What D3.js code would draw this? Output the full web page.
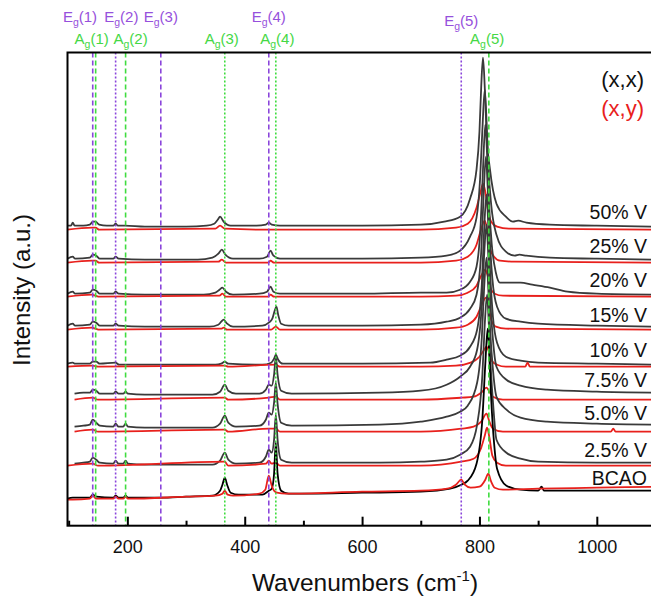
<!DOCTYPE html>
<html lang="en">
<head>
<meta charset="UTF-8">
<title>Raman spectra | V doped BCAO</title>
<script src="https://d3js.org/d3.v7.min.js"></script>
<style>
    body { margin: 0; background: #fff; }
    svg { display: block; font-family: "Liberation Sans", Arial, sans-serif; }
</style>
</head>
<body>
<div id="chart"></div>
<script>
    // samples, top to bottom
    const samples = ["50% V", "25% V", "20% V", "15% V", "10% V", "7.5% V", "5.0% V", "2.5% V", "BCAO"];
    const offsetXX = [299, 266, 231, 199, 161, 131, 98, 61, 27];
    const offsetXY = [296, 263, 229, 196, 159, 126, 94, 60, 26];

    // spectra: [wavenumber, intensity above the offset]
    const xx50 = [[98,1],[104,1],[107,4],[110,1],[125,1],[136,2],[141,5],[146,5],[152,2],[165,1],[176,1],[180,3],[184,1],[196,1],[230,0],[300,0],[335,1],[348,3],[354,7],[358,10],[364,5],[376,1],[420,1],[436,2],[441,4],[446,2],[460,1],[600,1],[700,2],[740,5],[767,10],[784,28],[795,57],[800,95],[803,140],[806,169],[809,140],[812,95],[818,57],[829,23],[845,10],[857,5],[866,6],[880,4],[920,2],[1000,1],[1100,0]];
    const xy50 = [[98,0],[140,2],[146,2],[152,0],[350,1],[358,4],[366,1],[440,0],[700,0],[760,2],[780,6],[795,22],[802,38],[806,46],[810,38],[815,18],[820,8],[830,3],[850,1],[1100,0]];

    const xx25 = [[98,1],[107,3],[111,1],[136,2],[141,5],[147,4],[153,1],[176,1],[180,3],[185,1],[230,0],[320,0],[345,2],[355,6],[361,10],[367,5],[380,1],[425,1],[438,3],[444,9],[449,4],[460,1],[600,1],[700,2],[744,4],[767,9],[784,23],[795,42],[801,80],[805,130],[809,170],[812,140],[815,95],[820,55],[829,25],[845,8],[860,4],[868,5],[880,4],[920,2],[1000,1],[1100,0]];
    const xy25 = [[98,0],[140,2],[146,2],[152,0],[355,1],[361,3],[368,0],[440,0],[444,2],[450,0],[700,0],[760,2],[780,6],[795,18],[802,32],[809,42],[813,34],[818,14],[825,6],[835,2],[860,1],[1100,0]];

    const xx20 = [[98,1],[107,3],[111,1],[136,2],[141,5],[147,4],[153,1],[176,1],[180,3],[185,1],[230,0],[330,0],[350,2],[357,5],[362,7],[368,3],[380,0],[425,1],[438,3],[444,8],[449,3],[460,1],[600,1],[700,2],[744,2],[767,5],[784,13],[795,28],[802,70],[806,125],[810,170],[813,140],[816,95],[821,50],[828,22],[835,12],[850,12],[870,12],[890,10],[920,7],[950,3],[1000,1],[1100,0]];
    const xy20 = [[98,0],[140,2],[146,1],[152,0],[357,1],[362,3],[368,0],[440,0],[444,2],[450,0],[700,0],[760,1],[780,4],[795,11],[803,21],[810,27],[814,21],[819,8],[826,3],[840,1],[1100,0]];

    const xx15 = [[98,1],[107,3],[111,1],[136,2],[141,5],[147,4],[153,1],[176,1],[180,3],[185,1],[230,0],[340,0],[355,2],[360,5],[364,7],[370,3],[380,0],[430,1],[441,4],[447,8],[451,16],[454,20],[457,12],[462,3],[475,1],[600,1],[700,2],[744,5],[767,9],[784,18],[795,32],[803,75],[807,130],[811,170],[814,140],[817,95],[822,48],[830,20],[845,8],[870,5],[900,3],[1000,1],[1100,0]];
    const xy15 = [[98,0],[140,2],[146,1],[152,0],[360,1],[364,2],[370,0],[445,0],[453,3],[460,0],[700,0],[760,2],[780,5],[795,13],[804,25],[811,32],[815,25],[820,10],[828,3],[845,1],[1100,0]];

    const xx10 = [[98,1],[107,2],[111,1],[136,1],[141,3],[147,3],[153,1],[180,2],[186,0],[230,0],[350,0],[360,1],[366,3],[372,1],[430,0],[445,2],[450,6],[453,10],[457,5],[465,1],[600,1],[716,2],[744,5],[767,9],[784,18],[796,35],[804,80],[808,135],[812,170],[815,140],[818,95],[823,48],[830,22],[845,8],[870,4],[900,2],[1000,1],[1100,0]];
    const xy10 = [[98,0],[141,1],[150,0],[366,1],[372,0],[453,2],[460,0],[700,0],[760,1],[785,4],[800,10],[807,16],[812,20],[816,15],[821,6],[830,2],[845,0],[878,0],[882,4],[886,0],[1100,0]];

    const xx7 = [[110,1],[125,2],[136,2],[141,5],[147,4],[153,1],[176,1],[180,3],[185,1],[193,1],[197,3],[201,1],[230,0],[345,0],[358,3],[366,10],[372,4],[385,1],[425,1],[436,5],[441,10],[446,9],[450,20],[453,38],[456,20],[462,4],[480,1],[630,2],[700,4],[744,10],[767,18],[784,28],[796,45],[804,90],[808,140],[812,170],[815,140],[818,100],[823,55],[829,28],[846,15],[870,9],[915,5],[1000,3],[1100,2]];
    const xy7 = [[110,0],[141,2],[150,0],[366,2],[372,0],[441,2],[453,3],[460,0],[700,0],[769,2],[790,3],[803,7],[812,12],[817,8],[823,3],[840,0],[1100,0]];

    const xx5 = [[110,1],[125,2],[136,3],[141,8],[147,5],[153,2],[176,1],[180,4],[185,1],[193,1],[197,4],[201,1],[230,0],[345,0],[358,4],[366,12],[372,5],[385,1],[425,2],[436,8],[441,15],[446,13],[450,25],[453,45],[456,24],[462,5],[480,2],[630,3],[700,6],[744,11],[767,16],[780,22],[796,45],[804,90],[808,140],[812,170],[815,140],[818,100],[823,58],[829,31],[846,18],[870,10],[915,6],[1000,4],[1100,3]];
    const xy5 = [[110,0],[141,2],[150,0],[366,2],[372,0],[441,3],[453,3],[460,0],[700,0],[769,3],[790,5],[803,10],[812,18],[817,10],[823,3],[840,0],[1024,0],[1028,3],[1032,0],[1100,0]];

    const xx2 = [[110,1],[125,2],[136,3],[141,7],[147,5],[153,2],[176,1],[180,4],[185,1],[193,1],[197,4],[201,1],[230,0],[345,0],[358,4],[366,12],[372,5],[385,1],[425,2],[436,8],[441,15],[446,12],[450,25],[453,50],[456,25],[462,5],[480,2],[630,2],[700,3],[744,5],[767,10],[784,18],[796,40],[805,90],[809,140],[813,170],[816,140],[819,100],[824,55],[829,25],[846,12],[870,6],[900,3],[1000,2],[1100,2]];
    const xy2 = [[98,0],[141,2],[150,0],[366,4],[372,0],[436,2],[441,5],[446,2],[453,3],[460,0],[700,0],[769,4],[790,7],[803,18],[809,30],[813,38],[817,28],[822,10],[830,3],[845,0],[1100,0]];

    const xxBCAO = [[98,0],[107,1],[136,1],[141,4],[147,2],[176,1],[180,3],[185,1],[193,1],[197,3],[201,1],[257,1],[300,2],[345,3],[358,8],[362,14],[366,21],[370,14],[376,6],[390,4],[430,4],[441,8],[446,10],[450,25],[453,56],[456,25],[462,8],[475,5],[600,6],[700,7],[750,10],[769,14],[780,18],[795,35],[805,80],[810,135],[814,170],[817,140],[820,100],[825,55],[830,30],[846,13],[870,9],[900,8],[906,12],[910,8],[1000,8],[1100,8]];
    const xyBCAO = [[98,0],[107,0],[136,1],[141,4],[147,1],[176,1],[180,3],[185,1],[193,1],[197,3],[201,1],[300,3],[350,4],[362,6],[366,9],[371,5],[380,4],[425,6],[435,10],[441,24],[446,14],[450,9],[455,7],[470,6],[600,8],[700,9],[745,11],[760,15],[769,20],[775,15],[785,12],[800,13],[810,20],[815,26],[820,18],[826,12],[840,10],[900,11],[1000,12],[1100,13]];

    const spectraXX = [xx50, xx25, xx20, xx15, xx10, xx7, xx5, xx2, xxBCAO];
    const spectraXY = [xy50, xy25, xy20, xy15, xy10, xy7, xy5, xy2, xyBCAO];

    // phonon modes marked by vertical lines
    const egModes = [141, 180, 257, 441, 769];
    const agModes = [146, 197, 366, 453, 816];
    const modeNumbers = ["1", "2", "3", "4", "5"];

    const xTicks = [200, 400, 600, 800, 1000];
    const xMinorTicks = [100, 300, 500, 700, 900];

    // layout
    const width = 651, height = 601;
    const plotLeft = 67.5, plotRight = 655.5, plotTop = 52.5, plotBottom = 525.7;
    const purple = "#8a45db", green = "#3fdc3f";
    const egDash = ["5,3", "2,2", "5,3", "5,3", "2,2"];
    const agDash = ["5,3", "5,3", "2,2", "2,2", "5,3"];
    const egNudge = [-12.7, 5.7, 0, 0, 0];
    const agNudge = [-4, 5, -3, 1.5, -1.7];

    const x = d3.scaleLinear().domain([98, 1100]).range([plotLeft, plotRight]);
    const y = d3.scaleLinear().domain([0, plotBottom - plotTop]).range([plotBottom, plotTop]);

    const svg = d3.select("#chart")
        .append("svg")
        .attr("width", width)
        .attr("height", height);

    svg.append("defs").append("clipPath")
        .attr("id", "plot-clip")
        .append("rect")
        .attr("x", plotLeft)
        .attr("y", plotTop)
        .attr("width", plotRight - plotLeft)
        .attr("height", plotBottom - plotTop);

    const plot = svg.append("g").attr("clip-path", "url(#plot-clip)");

    const line = d3.line()
        .x(d => x(d[0]))
        .y(d => y(d[1]))
        .curve(d3.curveMonotoneX);

    samples.forEach((name, i) => {
        const xxColor = name === "BCAO" ? "#000" : "#3a3a3a";
        plot.append("path")
            .attr("d", line(spectraXX[i].map(d => [d[0], d[1] + offsetXX[i]])))
            .attr("fill", "none")
            .attr("stroke", xxColor)
            .attr("stroke-width", 1.8)
            .attr("stroke-linejoin", "round");
        plot.append("path")
            .attr("d", line(spectraXY[i].map(d => [d[0], d[1] + offsetXY[i]])))
            .attr("fill", "none")
            .attr("stroke", "#e8201c")
            .attr("stroke-width", 1.8)
            .attr("stroke-linejoin", "round");
    });

    // mode lines on top of the spectra
    egModes.forEach((m, i) => {
        plot.append("line")
            .attr("x1", x(m)).attr("x2", x(m))
            .attr("y1", plotTop).attr("y2", plotBottom)
            .attr("stroke", purple)
            .attr("stroke-width", 1.6)
            .attr("stroke-dasharray", egDash[i]);
    });
    agModes.forEach((m, i) => {
        plot.append("line")
            .attr("x1", x(m)).attr("x2", x(m))
            .attr("y1", plotTop).attr("y2", plotBottom)
            .attr("stroke", green)
            .attr("stroke-width", 1.6)
            .attr("stroke-dasharray", agDash[i]);
    });

    function modeLabel(letter, num, cx, baseline, color) {
        const t = svg.append("text")
            .attr("x", cx)
            .attr("y", baseline)
            .attr("text-anchor", "middle")
            .attr("font-size", 15)
            .attr("fill", color);
        t.append("tspan").text(letter);
        t.append("tspan").attr("dy", 4).attr("font-size", 10.5).text("g");
        t.append("tspan").attr("dy", -4).text("(" + num + ")");
    }
    egModes.forEach((m, i) => modeLabel("E", modeNumbers[i], x(m) + egNudge[i], i === 4 ? 26 : 22, "#9650dc"));
    agModes.forEach((m, i) => modeLabel("A", modeNumbers[i], x(m) + agNudge[i], 43.5, "#45d845"));

    // frame
    svg.append("rect")
        .attr("x", plotLeft).attr("y", plotTop)
        .attr("width", plotRight - plotLeft).attr("height", plotBottom - plotTop)
        .attr("fill", "none")
        .attr("stroke", "#000")
        .attr("stroke-width", 2);

    const xAxis = svg.append("g")
        .attr("transform", `translate(0,${plotBottom})`)
        .call(d3.axisBottom(x).tickValues(xTicks).tickFormat(d3.format("d"))
            .tickSizeInner(-9).tickSizeOuter(0).tickPadding(14.5));
    xAxis.select(".domain").remove();
    xAxis.selectAll(".tick line").attr("stroke-width", 2);
    xAxis.selectAll("text").attr("font-size", 18).attr("font-family", "Liberation Sans, Arial, sans-serif").attr("fill", "#111");

    const xMinor = svg.append("g")
        .attr("transform", `translate(0,${plotBottom})`)
        .call(d3.axisBottom(x).tickValues(xMinorTicks).tickSizeInner(-5).tickSizeOuter(0).tickFormat(""));
    xMinor.select(".domain").remove();
    xMinor.selectAll(".tick line").attr("stroke-width", 2);

    // axis titles
    const xTitle = svg.append("text")
        .attr("x", 365)
        .attr("y", 591)
        .attr("text-anchor", "middle")
        .attr("font-size", 24.5)
        .attr("fill", "#111");
    xTitle.append("tspan").text("Wavenumbers (cm");
    xTitle.append("tspan").attr("dy", -10).attr("font-size", 15).text("-1");
    xTitle.append("tspan").attr("dy", 10).text(")");

    svg.append("text")
        .attr("transform", "translate(30,290) rotate(-90)")
        .attr("text-anchor", "middle")
        .attr("font-size", 24)
        .attr("fill", "#111")
        .text("Intensity (a.u.)");

    // sample labels and legend
    const labelBaselines = [219, 253, 287, 321.7, 356.7, 387, 420, 456.7, 485];
    samples.forEach((name, i) => {
        svg.append("text")
            .attr("x", 647)
            .attr("y", labelBaselines[i])
            .attr("text-anchor", "end")
            .attr("font-size", 19.5)
            .attr("fill", "#111")
            .text(name);
    });
    svg.append("text").attr("x", 644).attr("y", 87).attr("text-anchor", "end")
        .attr("font-size", 22).attr("fill", "#111").text("(x,x)");
    svg.append("text").attr("x", 644).attr("y", 116).attr("text-anchor", "end")
        .attr("font-size", 22).attr("fill", "#e8201c").text("(x,y)");
</script>
</body>
</html>
